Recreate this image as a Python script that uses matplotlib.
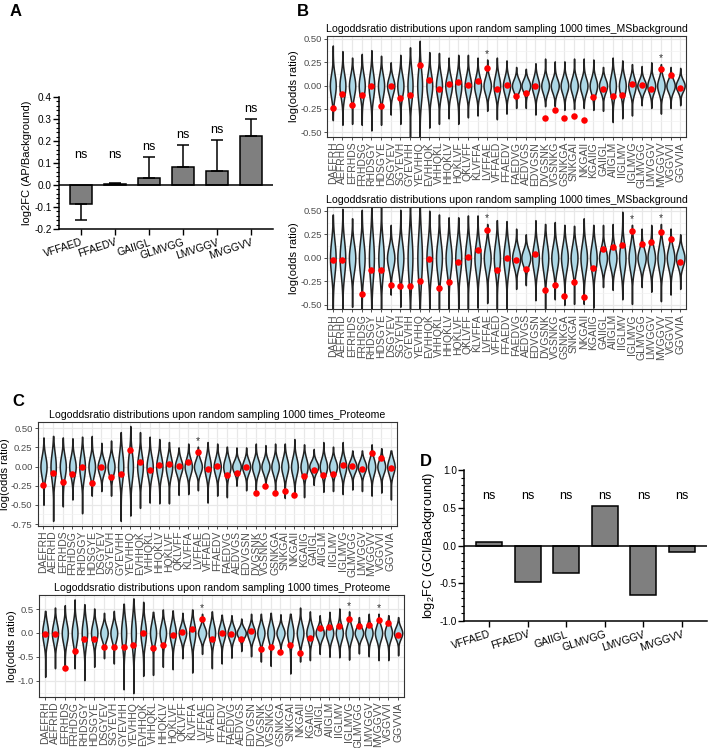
"""Four-panel figure: Prism-style bar charts (A, D) and ggplot-style violin panels (B, C)."""
import numpy as np
import matplotlib
matplotlib.use("Agg")
import matplotlib.pyplot as plt
from matplotlib.ticker import AutoMinorLocator, FixedLocator, MultipleLocator

plt.rcParams["font.family"] = ["Liberation Sans", "DejaVu Sans"]
plt.rcParams["axes.unicode_minus"] = False
plt.rcParams["mathtext.fontset"] = "custom"
plt.rcParams["mathtext.rm"] = "Liberation Sans"

# ---- data -------------------------------------------------------------
peptides = ["DAEFRH", "AEFRHD", "EFRHDS", "FRHDSG", "RHDSGY", "HDSGYE", "DSGYEV",
            "SGYEVH", "GYEVHH", "YEVHHQ", "EVHHQK", "VHHQKL", "HHQKLV", "HQKLVF",
            "QKLVFF", "KLVFFA", "LVFFAE", "VFFAED", "FFAEDV", "FAEDVG", "AEDVGS",
            "EDVGSN", "DVGSNK", "VGSNKG", "GSNKGA", "SNKGAI", "NKGAII", "KGAIIG",
            "GAIIGL", "AIIGLM", "IIGLMV", "IGLMVG", "GLMVGG", "LMVGGV", "MVGGVV",
            "VGGVVI", "GGVVIA"]

# observed log odds ratio (red dots), first and second set
observed_1 = [-0.243, -0.086, -0.207, -0.10, -0.007, -0.214, 0.0, -0.136, -0.10, 0.221,
              0.057, -0.039, 0.018, 0.036, 0.011, 0.054, 0.186, -0.032, 0.007, -0.107,
              -0.082, 0.0, -0.343, -0.257, -0.35, -0.32, -0.371, -0.121, -0.039, -0.114,
              -0.10, 0.018, 0.007, -0.036, 0.175, 0.111, -0.021]
observed_2 = [-0.021, -0.025, -0.73, -0.381, -0.131, -0.127, -0.286, -0.304, -0.30, -0.244,
              -0.011, -0.322, -0.258, -0.039, 0.014, 0.085, 0.30, -0.134, 0.0, -0.018,
              -0.12, 0.042, -0.336, -0.293, -0.40, -0.258, -0.417, -0.106, 0.099, 0.113,
              0.141, 0.286, 0.152, 0.163, 0.276, 0.201, -0.046]

# extent (max / min) of the sampled distributions
msbg_1_max = [0.43, 0.37, 0.30, 0.34, 0.38, 0.32, 0.25, 0.33, 0.41, 0.48, 0.36, 0.35, 0.30,
              0.33, 0.33, 0.30, 0.28, 0.30, 0.27, 0.20, 0.18, 0.24, 0.29, 0.26, 0.26, 0.29,
              0.29, 0.28, 0.20, 0.30, 0.27, 0.23, 0.21, 0.25, 0.23, 0.20, 0.19]
msbg_1_min = [-0.37, -0.42, -0.41, -0.42, -0.48, -0.42, -0.31, -0.41, -0.60, -0.62, -0.45,
              -0.41, -0.35, -0.41, -0.34, -0.32, -0.27, -0.36, -0.30, -0.24, -0.24, -0.31,
              -0.22, -0.22, -0.26, -0.25, -0.24, -0.26, -0.27, -0.39, -0.35, -0.32, -0.21,
              -0.24, -0.30, -0.24, -0.21]
msbg_2_max = [0.46, 0.52, 0.42, 0.51, 0.62, 0.60, 0.35, 0.51, 0.65, 0.70, 0.50, 0.46, 0.43,
              0.43, 0.45, 0.45, 0.36, 0.40, 0.39, 0.31, 0.25, 0.40, 0.36, 0.38, 0.35, 0.34,
              0.42, 0.35, 0.35, 0.36, 0.49, 0.35, 0.31, 0.35, 0.36, 0.31, 0.25]
msbg_2_min = [-0.70, -0.65, -0.52, -0.62, -0.80, -0.62, -0.39, -0.52, -0.85, -0.90, -0.65,
              -0.62, -0.60, -0.62, -0.58, -0.53, -0.48, -0.60, -0.58, -0.33, -0.29, -0.45,
              -0.58, -0.44, -0.50, -0.49, -0.49, -0.53, -0.31, -0.34, -0.44, -0.49, -0.31,
              -0.36, -0.46, -0.39, -0.33]
prot_1_max = [0.38, 0.40, 0.38, 0.37, 0.39, 0.40, 0.31, 0.34, 0.45, 0.53, 0.45, 0.39, 0.36,
              0.32, 0.25, 0.30, 0.26, 0.32, 0.30, 0.26, 0.25, 0.25, 0.30, 0.28, 0.30, 0.30,
              0.36, 0.29, 0.23, 0.32, 0.26, 0.32, 0.21, 0.21, 0.29, 0.24, 0.21]
prot_1_min = [-0.50, -0.71, -0.52, -0.43, -0.61, -0.38, -0.32, -0.38, -0.71, -0.64, -0.54,
              -0.47, -0.48, -0.48, -0.37, -0.36, -0.31, -0.47, -0.38, -0.40, -0.25, -0.31,
              -0.31, -0.28, -0.33, -0.41, -0.39, -0.40, -0.24, -0.33, -0.32, -0.36, -0.30,
              -0.32, -0.38, -0.34, -0.43]
prot_2_max = [0.46, 0.53, 0.58, 0.70, 0.60, 0.51, 0.42, 0.46, 0.61, 0.72, 0.65, 0.44, 0.49,
              0.47, 0.42, 0.49, 0.40, 0.45, 0.38, 0.37, 0.30, 0.40, 0.40, 0.42, 0.39, 0.40,
              0.53, 0.45, 0.37, 0.44, 0.51, 0.45, 0.33, 0.40, 0.40, 0.37, 0.33]
prot_2_min = [-0.92, -0.74, -0.74, -0.74, -0.99, -0.71, -0.53, -0.64, -1.18, -1.26, -0.90,
              -0.88, -0.71, -0.76, -0.53, -0.83, -0.44, -0.74, -0.64, -0.52, -0.38, -0.49,
              -0.60, -0.69, -0.43, -0.85, -0.60, -0.57, -0.44, -0.50, -0.51, -0.56, -0.43,
              -0.49, -0.57, -0.57, -0.47]

stars_1_msbg = ["LVFFAE", "MVGGVV"]
stars_1_prot = ["LVFFAE"]
stars_2 = ["LVFFAE", "IGLMVG", "MVGGVV"]

bar_labels = ["VFFAED", "FFAEDV", "GAIIGL", "GLMVGG", "LMVGGV", "MVGGVV"]
ap_fc = [-0.085, 0.005, 0.03, 0.08, 0.063, 0.225]
ap_err = [0.075, 0.003, 0.098, 0.10, 0.142, 0.075]
gci_fc = [0.04, -0.48, -0.37, 0.52, -0.65, -0.08]

W, H = 709, 748


def box(left, top, right, bottom):
    return [left / W, 1 - bottom / H, (right - left) / W, (bottom - top) / H]


fig = plt.figure(figsize=(W / 100, H / 100), dpi=100)

TITLE = "Logoddsratio distributions upon random sampling 1000 times_"


def violin_panel(rect, vmax, vmin, dots, stars, ylim, yticks, ylabels, title):
    ax = fig.add_axes(rect)
    x = np.arange(len(peptides))
    sds = [(t - b) / 6.5 for t, b in zip(vmax, vmin)]
    sd_min = min(sds)
    stats = []
    for t, b, sd in zip(vmax, vmin, sds):
        yy = np.linspace(b, t, 300)
        stats.append(dict(coords=yy, vals=np.exp(-0.5 * (yy / sd) ** 2),
                          mean=0.0, median=0.0, min=b, max=t))
    widths = [0.92 * (sd_min / sd) ** 0.6 for sd in sds]
    parts = ax.violin(stats, positions=x, widths=widths, showmeans=False,
                      showextrema=False, showmedians=False)
    for body in parts["bodies"]:
        body.set_facecolor("#ADD8E6")
        body.set_edgecolor("#222222")
        body.set_linewidth(1.1)
        body.set_alpha(1)
        body.set_zorder(2)
    ax.scatter(x, dots, s=22, color="red", zorder=3, linewidths=0)
    for name in stars:
        i = peptides.index(name)
        ax.annotate("*", (i, vmax[i]), xytext=(0, 0.5), textcoords="offset points",
                    ha="center", va="bottom", fontsize=7.5, color="#333333")
    ax.set_xlim(-0.6, len(peptides) - 0.4)
    ax.set_ylim(*ylim)
    ax.set_xticks(x)
    ax.set_xticklabels(peptides, rotation=90, fontsize=7.5, color="#4D4D4D")
    ax.yaxis.set_major_locator(FixedLocator(yticks))
    ax.set_yticklabels(ylabels, fontsize=6.8, color="#4D4D4D")
    step = yticks[1] - yticks[0]
    ax.yaxis.set_minor_locator(FixedLocator(np.arange(yticks[0] - step / 2, ylim[1], step)))
    ax.grid(True, which="major", color="#E8E8E8", lw=0.9, zorder=0)
    ax.grid(True, which="minor", axis="y", color="#F2F2F2", lw=0.5, zorder=0)
    ax.set_axisbelow(True)
    ax.tick_params(which="major", length=2.5, width=0.6, color="#333333", pad=1.2)
    ax.tick_params(which="minor", length=0)
    for sp in ax.spines.values():
        sp.set_color("#333333")
        sp.set_linewidth(0.8)
    ax.set_ylabel("log(odds ratio)", fontsize=8, labelpad=1)
    ax.set_title(title, fontsize=7.6, pad=3)
    return ax


b_ticks = [-0.5, -0.25, 0.0, 0.25, 0.5]
b_labels = ["-0.50", "-0.25", "0.00", "0.25", "0.50"]
violin_panel(box(327, 35.7, 686, 136.7), msbg_1_max, msbg_1_min, observed_1, stars_1_msbg,
             (-0.547, 0.535), b_ticks, b_labels, TITLE + "MSbackground")
violin_panel(box(327, 206.7, 686, 309), msbg_2_max, msbg_2_min, observed_2, stars_2,
             (-0.543, 0.543), b_ticks, b_labels, TITLE + "MSbackground")
violin_panel(box(37.7, 421.7, 396.7, 525.7), prot_1_max, prot_1_min, observed_1, stars_1_prot,
             (-0.772, 0.586), [-0.75, -0.5, -0.25, 0.0, 0.25, 0.5],
             ["-0.75", "-0.50", "-0.25", "0.00", "0.25", "0.50"], TITLE + "Proteome")
violin_panel(box(39.3, 595, 404, 696.7), prot_2_max, prot_2_min, observed_2, stars_2,
             (-1.335, 0.793), [-1.0, -0.5, 0.0, 0.5],
             ["-1.0", "-0.5", "0.0", "0.5"], TITLE + "Proteome")


def bar_panel(rect, values, errs, ylim, major, ylabel, ns_y, label_size):
    ax = fig.add_axes(rect)
    x = np.arange(len(bar_labels))
    ax.bar(x, values, width=0.67, color="#7F7F7F", edgecolor="black", linewidth=1.1, zorder=2)
    if errs is not None:
        lower = [e if v < 0 else 0 for v, e in zip(values, errs)]
        upper = [e if v >= 0 else 0 for v, e in zip(values, errs)]
        ax.errorbar(x, values, yerr=[lower, upper], fmt="none", ecolor="black",
                    elinewidth=1.1, capsize=4.5, capthick=1.1, zorder=3)
        tops = [max(v + u, 0.09) for v, u in zip(values, upper)]
        for xi, t in zip(x, tops):
            ax.annotate("ns", (xi, t), xytext=(0, 3), textcoords="offset points",
                        ha="center", va="bottom", fontsize=9)
    else:
        for xi in x:
            ax.text(xi, ns_y, "ns", ha="center", va="center", fontsize=9)
    ax.axhline(0, color="black", lw=1.1, zorder=4)
    ax.set_xlim(-0.65, len(bar_labels) - 0.35)
    ax.set_ylim(*ylim)
    ax.yaxis.set_major_locator(MultipleLocator(major))
    ax.yaxis.set_minor_locator(AutoMinorLocator(5))
    ax.yaxis.set_major_formatter(plt.FormatStrFormatter("%.1f"))
    ax.set_xticks(x)
    ax.set_xticklabels(bar_labels, rotation=18, ha="right", rotation_mode="anchor", fontsize=7.5)
    for s in ("top", "right"):
        ax.spines[s].set_visible(False)
    for s in ("left", "bottom"):
        ax.spines[s].set_linewidth(1.1)
    ax.tick_params(axis="y", which="major", length=4, width=1.0, labelsize=7.2, pad=1)
    ax.tick_params(axis="y", which="minor", length=2, width=0.8)
    ax.tick_params(axis="x", length=4, width=1.0, pad=2)
    ax.set_ylabel(ylabel, fontsize=label_size, labelpad=2)
    return ax


bar_panel(box(59, 97, 273, 229), ap_fc, ap_err, (-0.2, 0.4), 0.1,
          "log2FC (AP/Background)", None, 8)
bar_panel(box(464, 470, 707, 621), gci_fc, None, (-1.0, 1.0), 0.5,
          "log$_2$FC (GCI/Background)", 0.65, 9.2)

for letter, (lx, ly) in {"A": (10, 11), "B": (297, 11), "C": (12, 401), "D": (420, 462)}.items():
    fig.text(lx / W, 1 - ly / H, letter, fontsize=12, fontweight="bold", va="center")

fig.savefig("out.png", dpi=100)
